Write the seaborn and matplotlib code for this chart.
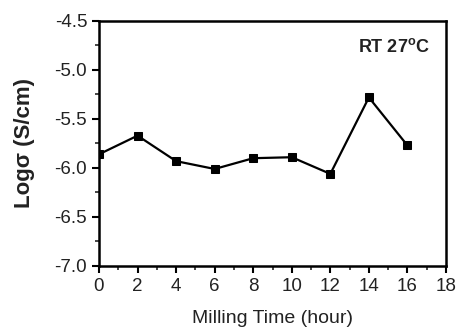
import matplotlib
matplotlib.use("Agg")
import matplotlib.pyplot as plt
import seaborn as sns
import pandas as pd
from matplotlib.ticker import MultipleLocator

milling_time = [0, 2, 4, 6, 8, 10, 12, 14, 16]
log_sigma = [-5.86, -5.67, -5.93, -6.01, -5.90, -5.89, -6.06, -5.28, -5.77]

sns.set_style("ticks")
plt.rcParams["font.family"] = ["Liberation Sans", "DejaVu Sans"]

df = pd.DataFrame({"time": milling_time, "logsigma": log_sigma})

fig = plt.figure(figsize=(4.57, 3.34), dpi=100)
ax = fig.add_axes([99 / 457, 1 - 266 / 334, (446 - 99) / 457, (266 - 21) / 334])

sns.lineplot(data=df, x="time", y="logsigma", ax=ax, color="black",
             marker="s", markersize=6, linewidth=1.6, markeredgecolor="black")

ax.set_xlim(0, 18)
ax.set_ylim(-7.0, -4.5)
ax.xaxis.set_major_locator(MultipleLocator(2))
ax.xaxis.set_minor_locator(MultipleLocator(1))
ax.yaxis.set_major_locator(MultipleLocator(0.5))
ax.yaxis.set_minor_locator(MultipleLocator(0.25))
ax.yaxis.set_major_formatter(matplotlib.ticker.FormatStrFormatter("%.1f"))

for s in ax.spines.values():
    s.set_linewidth(1.8)
    s.set_color("black")
ax.tick_params(which="major", direction="out", length=5, width=1.5, labelsize=13.5,
               colors="black", labelcolor="#222222")
ax.tick_params(which="minor", direction="out", length=3, width=1.2)

ax.set_xlabel("Milling Time (hour)", fontsize=14, labelpad=11, color="#222222")
ax.set_ylabel("Log\u03c3 (S/cm)", fontsize=16, fontweight="bold", labelpad=14, color="#222222")
ax.text(0.955, 0.894, "RT 27$^\\mathregular{o}$C", transform=ax.transAxes,
        ha="right", va="center", fontsize=13, fontweight="bold", color="#222222")

fig.savefig("out.png", dpi=100)
plt.close(fig)
